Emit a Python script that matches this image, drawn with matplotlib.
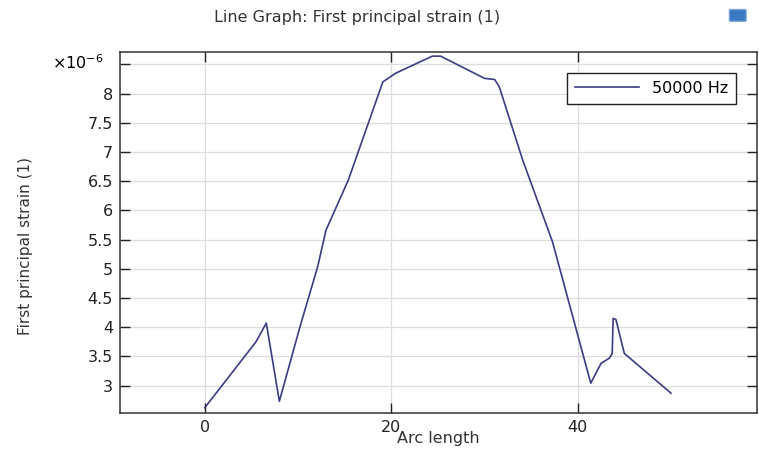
import matplotlib
matplotlib.use("Agg")
import matplotlib.pyplot as plt
from matplotlib.patches import FancyBboxPatch

# arc length and first principal strain (in units of 1e-6)
arc_length = [0, 5.5, 6.6, 8.0, 10.2, 12.1, 13.0, 15.4, 19.1, 20.5, 24.4, 25.3,
              30.0, 31.1, 31.6, 34.1, 37.3, 41.4, 42.5, 43.4, 43.7, 43.8, 44.1,
              45.0, 50.0]
strain_e6 = [2.62, 3.75, 4.07, 2.73, 4.0, 5.03, 5.66, 6.52, 8.20, 8.35, 8.64, 8.64,
             8.26, 8.24, 8.11, 6.86, 5.46, 3.04, 3.38, 3.47, 3.55, 4.15, 4.13,
             3.55, 2.87]
series_label = "50000 Hz"

xticks = [0, 20, 40]
yticks = [3, 3.5, 4, 4.5, 5, 5.5, 6, 6.5, 7, 7.5, 8, 8.5]
ytick_labels = ["3", "3.5", "4", "4.5", "5", "5.5", "6", "6.5", "7", "7.5", "8", ""]

fs = 11.5

fig = plt.figure(figsize=(7.59, 4.54), dpi=100)
ax = fig.add_axes([0.158, 0.0903, 0.839, 0.795])

ax.plot(arc_length, strain_e6, color="#3c3c82", lw=1.2, label=series_label)

ax.set_xlim(-9.1, 59.2)
ax.set_ylim(2.53, 8.71)
ax.set_xticks(xticks)
ax.set_yticks(yticks)
ax.set_yticklabels(ytick_labels)
ax.grid(True, color="#dddddd", lw=0.9)
ax.set_axisbelow(True)
ax.tick_params(direction="in", top=True, right=True, length=7, width=1,
               labelsize=fs, colors="#222222", pad=5)
for s in ax.spines.values():
    s.set_color("#333333")
    s.set_linewidth(1.1)

ax.set_xlabel("Arc length", fontsize=fs, labelpad=-3, color="#333333")
ax.set_ylabel("First principal strain (1)", fontsize=fs - 0.5, color="#333333")
ax.yaxis.set_label_coords(-0.137, 0.463)
ax.text(-0.025, 0.972, r"$\times10^{-6}$", transform=ax.transAxes,
        ha="right", va="center", fontsize=fs)

leg = ax.legend(loc="upper right", fontsize=fs, handlelength=4.0,
                borderaxespad=1.3, fancybox=False, framealpha=1,
                borderpad=0.5)
leg.get_frame().set_edgecolor("#222222")
leg.get_frame().set_linewidth(1.0)

fig.text(0.47, 0.962, "Line Graph: First principal strain (1)", ha="center",
         va="center", fontsize=fs, color="#333333")

# small toolbar icon at top right
icon = FancyBboxPatch((0.963, 0.955), 0.018, 0.022, boxstyle="round,pad=0.002",
                      transform=fig.transFigure, facecolor="#3b78c2",
                      edgecolor="#7aa6d8", lw=1)
fig.patches.append(icon)

fig.savefig("out.png", dpi=100)
